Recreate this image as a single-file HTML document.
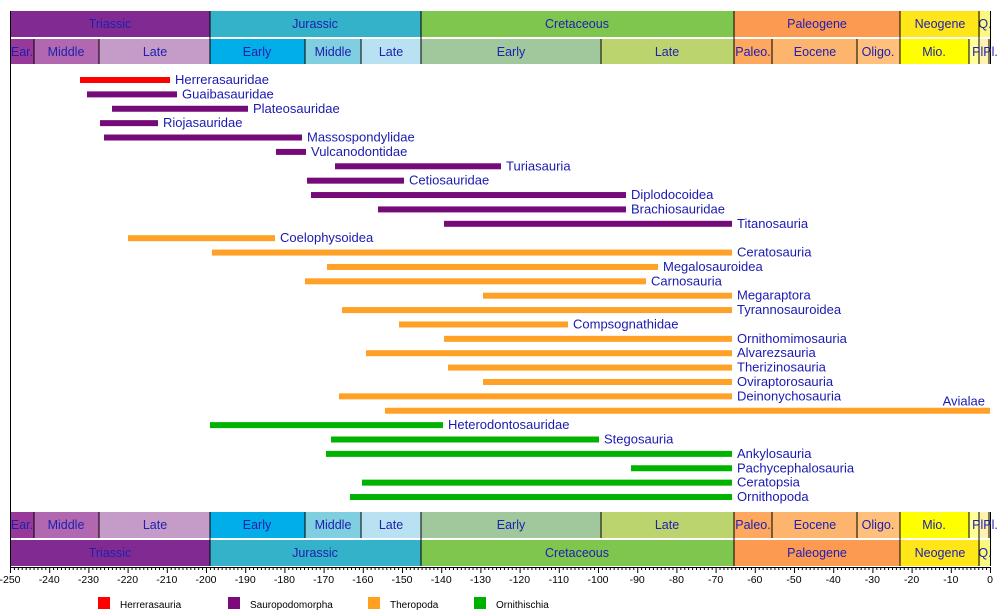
<!DOCTYPE html>
<html><head><meta charset="utf-8"><style>
html,body{margin:0;padding:0;background:#fff;}
svg{display:block;font-family:"Liberation Sans",sans-serif;}
</style></head><body>
<svg width="1000" height="615" viewBox="0 0 1000 615" xmlns="http://www.w3.org/2000/svg">
<g font-size="12.5" fill="#2020b0" text-anchor="middle">
<rect x="10" y="11" width="200" height="26" fill="#812b92"/>
<rect x="210" y="11" width="211" height="26" fill="#34b2c9"/>
<rect x="421" y="11" width="313" height="26" fill="#7fc64e"/>
<rect x="734" y="11" width="166" height="26" fill="#fd9a52"/>
<rect x="900" y="11" width="80" height="26" fill="#ffe619"/>
<rect x="980" y="11" width="10" height="26" fill="#f9f97f"/>
<text x="110" y="28">Triassic</text><text x="315" y="28">Jurassic</text><text x="577" y="28">Cretaceous</text><text x="817" y="28">Paleogene</text><text x="940" y="28">Neogene</text><text x="985" y="28">Q.</text>
<rect x="10" y="39" width="24" height="25" fill="#983999"/>
<rect x="34" y="39" width="65" height="25" fill="#b168b1"/>
<rect x="99" y="39" width="111" height="25" fill="#c59cc8"/>
<rect x="210" y="39" width="95" height="25" fill="#02aee8"/>
<rect x="305" y="39" width="56" height="25" fill="#80cfe0"/>
<rect x="361" y="39" width="60" height="25" fill="#b8e2f2"/>
<rect x="421" y="39" width="180" height="25" fill="#a0c89c"/>
<rect x="601" y="39" width="133" height="25" fill="#bcd46e"/>
<rect x="734" y="39" width="38" height="25" fill="#fda75f"/>
<rect x="772" y="39" width="85" height="25" fill="#fdb46c"/>
<rect x="857" y="39" width="43" height="25" fill="#fec07a"/>
<rect x="900" y="39" width="69" height="25" fill="#ffff00"/>
<rect x="969" y="39" width="10" height="25" fill="#ffff99"/>
<rect x="979" y="39" width="11" height="25" fill="#fff2ae"/>
<g stroke="#000" stroke-width="1">
<line x1="34" y1="39" x2="34" y2="64"/><line x1="99" y1="39" x2="99" y2="64"/><line x1="210" y1="11" x2="210" y2="64"/><line x1="305" y1="39" x2="305" y2="64"/><line x1="361" y1="39" x2="361" y2="64"/><line x1="421" y1="11" x2="421" y2="64"/><line x1="601" y1="39" x2="601" y2="64"/><line x1="734" y1="11" x2="734" y2="64"/><line x1="772" y1="39" x2="772" y2="64"/><line x1="857" y1="39" x2="857" y2="64"/><line x1="900" y1="11" x2="900" y2="64"/><line x1="969" y1="39" x2="969" y2="64"/><line x1="979" y1="11" x2="979" y2="64"/><line x1="989" y1="39" x2="989" y2="64"/><line x1="990.5" y1="11" x2="990.5" y2="64"/>
</g>
<text x="22" y="56">Ear.</text><text x="66" y="56">Middle</text><text x="155" y="56">Late</text><text x="257" y="56">Early</text><text x="333" y="56">Middle</text><text x="391" y="56">Late</text><text x="511" y="56">Early</text><text x="667" y="56">Late</text><text x="753" y="56">Paleo.</text><text x="815" y="56">Eocene</text><text x="878" y="56">Oligo.</text><text x="934" y="56">Mio.</text><text x="985" y="56">PlPl.</text>
</g>
<g font-size="12.5" fill="#2020b0" text-anchor="middle">
<rect x="10" y="512" width="24" height="26" fill="#983999"/>
<rect x="34" y="512" width="65" height="26" fill="#b168b1"/>
<rect x="99" y="512" width="111" height="26" fill="#c59cc8"/>
<rect x="210" y="512" width="95" height="26" fill="#02aee8"/>
<rect x="305" y="512" width="56" height="26" fill="#80cfe0"/>
<rect x="361" y="512" width="60" height="26" fill="#b8e2f2"/>
<rect x="421" y="512" width="180" height="26" fill="#a0c89c"/>
<rect x="601" y="512" width="133" height="26" fill="#bcd46e"/>
<rect x="734" y="512" width="38" height="26" fill="#fda75f"/>
<rect x="772" y="512" width="85" height="26" fill="#fdb46c"/>
<rect x="857" y="512" width="43" height="26" fill="#fec07a"/>
<rect x="900" y="512" width="69" height="26" fill="#ffff00"/>
<rect x="969" y="512" width="10" height="26" fill="#ffff99"/>
<rect x="979" y="512" width="11" height="26" fill="#fff2ae"/>
<rect x="10" y="540" width="200" height="26" fill="#812b92"/>
<rect x="210" y="540" width="211" height="26" fill="#34b2c9"/>
<rect x="421" y="540" width="313" height="26" fill="#7fc64e"/>
<rect x="734" y="540" width="166" height="26" fill="#fd9a52"/>
<rect x="900" y="540" width="80" height="26" fill="#ffe619"/>
<rect x="980" y="540" width="10" height="26" fill="#f9f97f"/>
<g stroke="#000" stroke-width="1">
<line x1="34" y1="512" x2="34" y2="538"/><line x1="99" y1="512" x2="99" y2="538"/><line x1="210" y1="512" x2="210" y2="566"/><line x1="305" y1="512" x2="305" y2="538"/><line x1="361" y1="512" x2="361" y2="538"/><line x1="421" y1="512" x2="421" y2="566"/><line x1="601" y1="512" x2="601" y2="538"/><line x1="734" y1="512" x2="734" y2="566"/><line x1="772" y1="512" x2="772" y2="538"/><line x1="857" y1="512" x2="857" y2="538"/><line x1="900" y1="512" x2="900" y2="566"/><line x1="969" y1="512" x2="969" y2="538"/><line x1="979" y1="512" x2="979" y2="566"/><line x1="989" y1="512" x2="989" y2="538"/><line x1="990.5" y1="512" x2="990.5" y2="566"/>
</g>
<text x="22" y="529">Ear.</text><text x="66" y="529">Middle</text><text x="155" y="529">Late</text><text x="257" y="529">Early</text><text x="333" y="529">Middle</text><text x="391" y="529">Late</text><text x="511" y="529">Early</text><text x="667" y="529">Late</text><text x="753" y="529">Paleo.</text><text x="815" y="529">Eocene</text><text x="878" y="529">Oligo.</text><text x="934" y="529">Mio.</text><text x="985" y="529">PlPl.</text>
<text x="110" y="557">Triassic</text><text x="315" y="557">Jurassic</text><text x="577" y="557">Cretaceous</text><text x="817" y="557">Paleogene</text><text x="940" y="557">Neogene</text><text x="985" y="557">Q.</text>
</g>
<line x1="10.5" y1="11" x2="10.5" y2="568" stroke="#000"/>
<line x1="10" y1="567.5" x2="990" y2="567.5" stroke="#000"/>
<g stroke="#000" stroke-width="1" id="ticks"></g>
<g font-size="10.5" fill="#000" text-anchor="middle" id="axlab"></g>
<g id="bars" font-size="13" fill="#1a1ab0"></g>
<g font-size="10" fill="#000">
<rect x="98" y="597" width="12" height="12" fill="#ff0000"/><text x="120" y="608">Herrerasauria</text>
<rect x="228" y="597" width="12" height="12" fill="#7b0a7b"/><text x="250" y="608">Sauropodomorpha</text>
<rect x="368" y="597" width="12" height="12" fill="#ffa020"/><text x="390" y="608">Theropoda</text>
<rect x="474" y="597" width="12" height="12" fill="#00b000"/><text x="496" y="608">Ornithischia</text>
</g>
<script>
var ns="http://www.w3.org/2000/svg";
function px(t){return 10+(t+250)*3.92;}
var tk=document.getElementById("ticks"),al=document.getElementById("axlab");
for(var t=-250;t<=0;t++){var l=document.createElementNS(ns,"line");var x=px(t)+0.5;l.setAttribute("x1",x);l.setAttribute("x2",x);l.setAttribute("y1",567);l.setAttribute("y2",t%10==0?573:570);tk.appendChild(l);
if(t%10==0){var s=document.createElementNS(ns,"text");s.setAttribute("x",px(t));s.setAttribute("y",583);s.textContent=t;al.appendChild(s);}}
var R="#ff0000",S="#750b78",T="#ffa126",O="#00b300";
var d=[["Herrerasauridae",80,170,R],["Guaibasauridae",87,177,S],["Plateosauridae",112,248,S],["Riojasauridae",100,158,S],["Massospondylidae",104,302,S],["Vulcanodontidae",276,306,S],["Turiasauria",335,501,S],["Cetiosauridae",307,404,S],["Diplodocoidea",311,626,S],["Brachiosauridae",378,626,S],["Titanosauria",444,732,S],["Coelophysoidea",128,275,T],["Ceratosauria",212,732,T],["Megalosauroidea",327,658,T],["Carnosauria",305,646,T],["Megaraptora",483,732,T],["Tyrannosauroidea",342,732,T],["Compsognathidae",399,568,T],["Ornithomimosauria",444,732,T],["Alvarezsauria",366,732,T],["Therizinosauria",448,732,T],["Oviraptorosauria",483,732,T],["Deinonychosauria",339,732,T],["Avialae",385,990,T],["Heterodontosauridae",210,443,O],["Stegosauria",331,599,O],["Ankylosauria",326,732,O],["Pachycephalosauria",631,732,O],["Ceratopsia",362,732,O],["Ornithopoda",350,732,O]];
var g=document.getElementById("bars");
d.forEach(function(r,i){var c=80+i*14.38;var b=document.createElementNS(ns,"rect");b.setAttribute("x",r[1]);b.setAttribute("y",c-3);b.setAttribute("width",r[2]-r[1]);b.setAttribute("height",6);b.setAttribute("fill",r[3]);g.appendChild(b);
var s=document.createElementNS(ns,"text");if(r[0]=="Avialae"){s.setAttribute("x",985);s.setAttribute("y",c-5);s.setAttribute("text-anchor","end");}else{s.setAttribute("x",r[2]+5);s.setAttribute("y",c+4);}s.textContent=r[0];g.appendChild(s);});
</script>
</svg>
</body></html>
